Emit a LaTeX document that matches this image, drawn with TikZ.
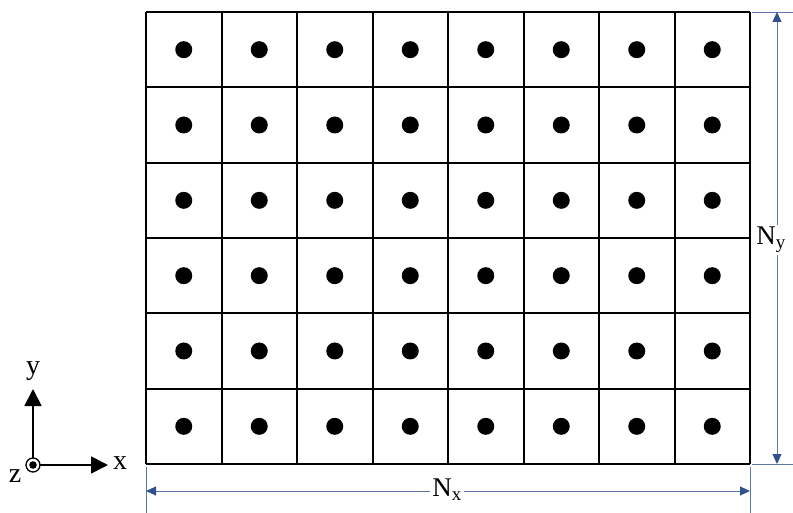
\documentclass[tikz,border=0pt]{standalone}
\usepackage{fontspec}
\setmainfont{Liberation Serif}
\usetikzlibrary{arrows.meta}
\definecolor{dimblue}{RGB}{47,82,143}
\definecolor{dimline}{RGB}{90,120,170}
\begin{document}
\begin{tikzpicture}[x=1pt,y=-1pt,
  gridline/.style={line width=2pt,black},
  pt/.style={circle,fill=black,inner sep=0pt,minimum size=17pt},
  extline/.style={line width=0.9pt,dimline},
  dimarrow/.style={line width=0.9pt,dimline,{Triangle[length=10pt,width=9pt,color=dimblue]}-{Triangle[length=10pt,width=9pt,color=dimblue]}},
  axis/.style={line width=1.8pt,-{Triangle[length=17pt,width=17pt]}},
  lbl/.style={font=\fontsize{28}{28}\selectfont,inner sep=1pt},
  dimlbl/.style={font=\fontsize{27}{27}\selectfont,fill=white,inner sep=2pt}]
\useasboundingbox (0,0) rectangle (793,513);
% grid
\foreach \i in {0,...,8} {
  \draw[gridline] ({146+\i*75.5},12) -- ({146+\i*75.5},464);
}
\foreach \j in {0,...,6} {
  \draw[gridline] (146,{12+\j*75.333}) -- (750,{12+\j*75.333});
}
\foreach \i in {0,...,7} {
  \foreach \j in {0,...,5} {
    \node[pt] (p\i\j) at ({146+37.75+\i*75.5},{12+37.667+\j*75.333}) {};
  }
}
% extension lines
\coordinate (tr) at (752,12);
\coordinate (tre) at (793,12);
\coordinate (br) at (752,464);
\coordinate (bre) at (793,464);
\coordinate (bl) at (146,467);
\coordinate (ble) at (146,513);
\coordinate (brv) at (750,467);
\coordinate (brve) at (750,513);
\draw[extline] (tr) -- (tre);
\draw[extline] (br) -- (bre);
\draw[extline] (bl) -- (ble);
\draw[extline] (brv) -- (brve);
% dimension lines
\coordinate (nyt) at (777,12);
\coordinate (nyb) at (777,464);
\coordinate (nxl) at (146,491);
\coordinate (nxr) at (750,491);
\draw[dimarrow] (nyt) -- (nyb);
\draw[dimarrow] (nxl) -- (nxr);
\node[dimlbl] (ny) at (771,240) {N\textsubscript{y}};
\node[dimlbl] (nx) at (447,490) {N\textsubscript{x}};
% axes
\coordinate (o) at (33,465);
\coordinate (yend) at (33,389);
\coordinate (xend) at (108,465);
\draw[axis] (o) ++(0,-7) -- (yend);
\draw[axis] (o) ++(7,0) -- (xend);
\draw[line width=1.3pt] (o) circle (7);
\fill (o) circle (3.8);
\node[lbl] (ly) at (33,371) {y};
\node[lbl] (lx) at (120,463) {x};
\node[lbl] (lz) at (15,476) {z};
\end{tikzpicture}
\end{document}
